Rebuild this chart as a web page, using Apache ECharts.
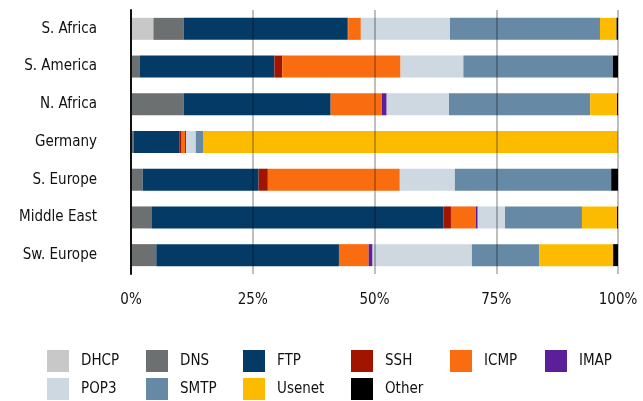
<!DOCTYPE html>
<html>
<head>
<meta charset="utf-8">
<script src="https://cdn.jsdelivr.net/npm/echarts@6/dist/echarts.min.js"></script>
<style>html,body{margin:0;padding:0;background:#fff}#c{width:643px;height:401px}</style>
</head>
<body>
<div id="c"></div>
<script>
const categories = ['S. Africa','S. America','N. Africa','Germany','S. Europe','Middle East','Sw. Europe'];
const seriesNames = ['DHCP','DNS','FTP','SSH','ICMP','IMAP','POP3','SMTP','Usenet','Other'];
const DHCP   = [4.6, 0,    0,    0,    0,    0,    0];
const DNS    = [6.2, 1.75, 10.8, 0.5,  2.4,  4.2,  5.2];
const FTP    = [33.6,27.7, 30.2, 9.5,  23.8, 60.0, 37.5];
const SSH    = [0.2, 1.6,  0,    0.4,  1.9,  1.5,  0];
const ICMP   = [2.6, 24.3, 10.5, 0.7,  27.1, 5.1,  6.1];
const IMAP   = [0,   0,    1.0,  0.2,  0,    0.4,  0.8];
const POP3   = [18.3,12.9, 12.8, 2.0,  11.3, 5.6,  20.4];
const SMTP   = [30.8,30.7, 29.0, 1.6,  32.1, 15.8, 13.8];
const Usenet = [3.4, 0,    5.5,  85.1, 0,    7.2,  15.2];
const Other  = [0.3, 1.05, 0.2,  0,    1.4,  0.2,  1.0];
const xTicks = [0, 25, 50, 75, 100];

const values = [DHCP, DNS, FTP, SSH, ICMP, IMAP, POP3, SMTP, Usenet, Other];
const colors = ['#c8c8c8','#6d7070','#033a66','#a11500','#f96d10','#5a1f99','#cdd8e1','#6689a5','#fdbb00','#000000'];
const FONT = "'DejaVu Sans Condensed','Liberation Sans Narrow',sans-serif";

// legend columns (6 per row, 2 rows)
const legendCols = [];
for (let c = 0; c < 6; c++) {
  const items = [seriesNames[c]];
  if (seriesNames[c + 6]) items.push(seriesNames[c + 6]);
  legendCols.push(items);
}
const colLeft = [47, 146, 243, 351, 450, 545];

const chart = echarts.init(document.getElementById('c'), null, {renderer:'canvas'});
chart.setOption({
  animation: false,
  color: colors,
  grid: {left: 131, right: 25, top: 10, bottom: 127, containLabel: false},
  xAxis: {
    type: 'value', min: xTicks[0], max: xTicks[xTicks.length-1], interval: 25,
    z: 5,
    axisLine: {show: false},
    axisTick: {show: false},
    splitLine: {show: true, lineStyle: {color: 'rgba(0,0,0,0.25)', width: 2}},
    axisLabel: {
      margin: 19, fontSize: 15, color: '#111', fontFamily: FONT,
      formatter: v => v + '%'
    }
  },
  yAxis: {
    type: 'category', data: categories, inverse: true,
    z: 6,
    axisLine: {show: true, lineStyle: {color: '#111', width: 2}},
    axisTick: {show: false},
    splitLine: {show: false},
    axisLabel: {margin: 34, fontSize: 15, color: '#111', fontFamily: FONT}
  },
  legend: legendCols.map((items, c) => ({
    data: items,
    left: colLeft[c], top: 350,
    orient: 'vertical',
    padding: 0,
    itemWidth: 22, itemHeight: 22, itemGap: 6,
    icon: 'rect',
    selectedMode: false,
    textStyle: {fontSize: 15, color: '#111', fontFamily: FONT, padding: [0,0,0,7]}
  })),
  series: seriesNames.map((n, i) => ({
    name: n, type: 'bar', stack: 'total', barWidth: 22,
    data: values[i],
    itemStyle: {color: colors[i]}
  }))
});
</script>
</body>
</html>
